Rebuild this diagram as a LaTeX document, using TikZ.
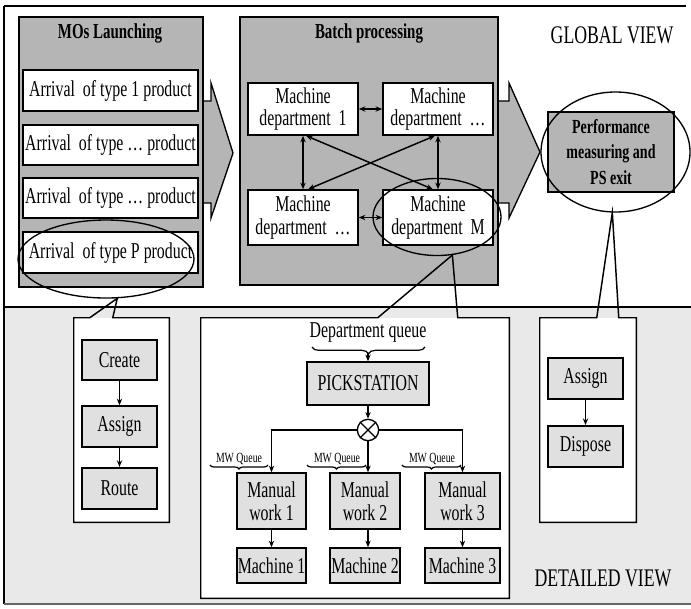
\documentclass[tikz,border=0pt]{standalone}
\usepackage{fontspec}
\setmainfont{Liberation Serif}[FakeStretch=0.70]
\usetikzlibrary{arrows.meta,shapes.geometric,calc,decorations.pathreplacing}

\definecolor{panelgray}{HTML}{B5B5B5}
\definecolor{detailbg}{HTML}{E9E9E9}
\definecolor{stepfill}{HTML}{E0E0E0}

\tikzset{
  sz/.style 2 args={minimum width=#1*0.75pt, minimum height=#2*0.75pt},
  box/.style={draw, line width=1.1pt, inner sep=0pt, align=center},
  whitebox/.style={box, fill=white},
  stepbox/.style={box, fill=stepfill},
  panel/.style={draw, line width=1.1pt, fill=panelgray, inner sep=0pt, align=center},
  txt/.style={font=\fontsize{17}{17}\selectfont},
  small/.style={font=\fontsize{10.5}{11}\selectfont},
  title/.style={font=\bfseries\fontsize{16}{16}\selectfont},
  view/.style={font=\fontsize{19}{19}\selectfont},
  arr/.style={-{Stealth[length=5pt,width=4pt]}, line width=0.9pt},
  dbl/.style={{Stealth[length=5pt,width=4pt]}-{Stealth[length=5pt,width=4pt]}, line width=1.1pt},
  bigarrow/.style={draw, line width=1pt, fill=panelgray},
  zoomring/.style={ellipse, draw, line width=1pt, inner sep=0pt},
  callout/.style={line width=1.1pt},
  qbrace/.style={decorate, decoration={brace, mirror, amplitude=#1}, line width=0.9pt},
}

\begin{document}
\begin{tikzpicture}[x=0.75pt, y=-0.75pt]
\useasboundingbox (0,0) rectangle (691,608);

% detailed-view background and frame
\fill[detailbg] (4,307) rectangle (691,604);
\draw[line width=1.2pt] (4,6) -- (686,6);
\draw[line width=1.2pt] (4,6) -- (4,604);
\draw[line width=1.2pt] (4,307) -- (691,307);
\draw[line width=1.4pt, black!60] (4,604) -- (691,604);

% flow arrows between the global stages
\path[bigarrow] (150,101) -- (211,101) -- (211,83) -- (233,153) -- (211,218) -- (211,203) -- (150,203) -- cycle;
\path[bigarrow] (450,101) -- (509,101) -- (509,83) -- (540,152) -- (509,218) -- (509,203) -- (450,203) -- cycle;

% MOs launching panel
\node[panel, sz={184}{270}] (mos) at (111,152) {};
\node[title] (mostitle) at (110,33) {MOs Launching};
\node[whitebox, txt, sz={175}{41}] (a1) at (110.5,90.5) {Arrival~ of type 1 product};
\node[whitebox, txt, sz={175}{40}] (a2) at (110.5,145) {Arrival~ of type \dots\ product};
\node[whitebox, txt, sz={175}{40}] (a3) at (110.5,198) {Arrival~ of type \dots\ product};
\node[whitebox, txt, sz={175}{41}] (a4) at (110.5,252.5) {Arrival~ of type P product};

% batch processing panel
\node[panel, sz={258}{268}] (batch) at (369,151) {};
\node[title] (batchtitle) at (369,33) {Batch processing};
\node[whitebox, txt, sz={110}{52}] (md1) at (303,109) {Machine\\department~ 1};
\node[whitebox, txt, sz={110}{52}] (md2) at (438,109) {Machine\\department~ \dots};
\node[whitebox, txt, sz={110}{55}] (md3) at (303,217.5) {Machine\\department~ \dots};
\node[whitebox, txt, sz={110}{55}] (md4) at (438,217.5) {Machine\\department~ M};

\draw[dbl] (md1) -- (md2);
\draw[dbl] (md3) -- (md4);
\draw[dbl] (md1) -- (md3);
\draw[dbl] (md2) -- (md4);
\draw[dbl] ($(md1.south)+(3,0)$) -- ($(md4.north)+(-5,0)$);
\draw[dbl] ($(md2.south)+(-3,0)$) -- ($(md3.north)+(5,0)$);

% exit stage
\node[panel, sz={126}{80}, font=\bfseries\fontsize{15}{19}\selectfont] (perf) at (611,152) {Performance\\measuring and\\PS exit};

\node[view] (global) at (612,35) {GLOBAL VIEW};

% rings marking the detailed elements
\node[zoomring, minimum width=132pt, minimum height=58.5pt] (ringP) at (106,259) {};
\node[zoomring, minimum width=96pt, minimum height=57.75pt] (ringM) at (437,217) {};
\node[zoomring, minimum width=111.75pt, minimum height=90pt] (ringE) at (615.5,152) {};

% detail: product arrival
\node[fill=white, inner sep=0pt, sz={95}{204}] (dl) at (121.5,420) {};
\draw[callout] ($(dl.north west)+(16,0)$) -- (ringP.-74) -- ($(dl.north west)+(39,0)$) -- (dl.north east) -- (dl.south east) -- (dl.south west) -- (dl.north west) -- cycle;
\node[stepbox, txt, sz={75}{40}] (create) at (119.5,360) {Create};
\node[stepbox, txt, sz={75}{41}] (assignA) at (119.5,426.5) {Assign};
\node[stepbox, txt, line width=1.6pt, sz={75}{41}] (route) at (119.5,488.5) {Route};
\draw[arr] (create) -- (assignA);
\draw[arr] (assignA) -- (route);

% detail: machine department
\node[fill=white, inner sep=0pt, sz={308}{280}] (dm) at (355,458) {};
\draw[callout] ($(dm.north west)+(177,0)$) -- (ringM.-68) -- ($(dm.north west)+(257,0)$) -- (dm.north east) -- (dm.south east) -- (dm.south west) -- (dm.north west) -- cycle;

\node[txt] (dq) at (368,332) {Department queue};
\draw[qbrace=5pt] (312,347) -- (425,347);
\coordinate (dqtip) at (368,353);
\node[stepbox, txt, sz={122}{43}] (pick) at (368,383.5) {PICKSTATION};
\draw[arr] (dqtip) -- (pick);

\node[circle, draw, line width=1pt, minimum size=16pt, inner sep=0pt] (jn) at (368,430) {};
\draw[line width=1pt] (jn.45) -- (jn.225) (jn.135) -- (jn.-45);
\draw[arr] (pick) -- (jn);

\node[stepbox, txt, sz={69}{56}] (mw1) at (271.5,501) {Manual\\work 1};
\node[stepbox, txt, sz={70}{56}] (mw2) at (365,501) {Manual\\work 2};
\node[stepbox, txt, sz={75}{56}] (mw3) at (462.5,501) {Manual\\work 3};
\draw[arr] (jn.west) -| (mw1);
\draw[arr] (jn.east) -| (mw3);
\draw[arr] (jn) -- (jn |- mw2.north);

\node[small] (q1) at (239,459) {MW Queue};
\node[small] (q2) at (337,459) {MW Queue};
\node[small] (q3) at (432,459) {MW Queue};
\draw[qbrace=3pt] (210,465) -- (268,465);
\draw[qbrace=3pt] (307,465) -- (366,465);
\draw[qbrace=3pt] (402,465) -- (461,465);

\node[stepbox, txt, sz={69}{35}] (m1) at (271.5,565.5) {Machine 1};
\node[stepbox, txt, sz={70}{35}] (m2) at (365,565.5) {Machine 2};
\node[stepbox, txt, sz={75}{35}] (m3) at (462.5,565.5) {Machine 3};
\draw[arr] (mw1) -- (m1);
\draw[arr] (jn |- mw2.south) -- (jn |- m2.north);
\draw[arr] (mw3) -- (m3);

% detail: exit
\node[fill=white, inner sep=0pt, sz={96}{204}] (dr) at (588,420) {};
\draw[callout] ($(dr.north west)+(57,0)$) -- (ringE.-93) -- ($(dr.north west)+(79,0)$) -- (dr.north east) -- (dr.south east) -- (dr.south west) -- (dr.north west) -- cycle;
\node[stepbox, txt, sz={75}{41}] (assignB) at (585.5,378.5) {Assign};
\node[stepbox, txt, line width=1.4pt, sz={75}{41}] (dispose) at (585.5,446.5) {Dispose};
\draw[arr] (assignB) -- (dispose);

\node[view] (detailed) at (603,578) {DETAILED VIEW};
\end{tikzpicture}
\end{document}
